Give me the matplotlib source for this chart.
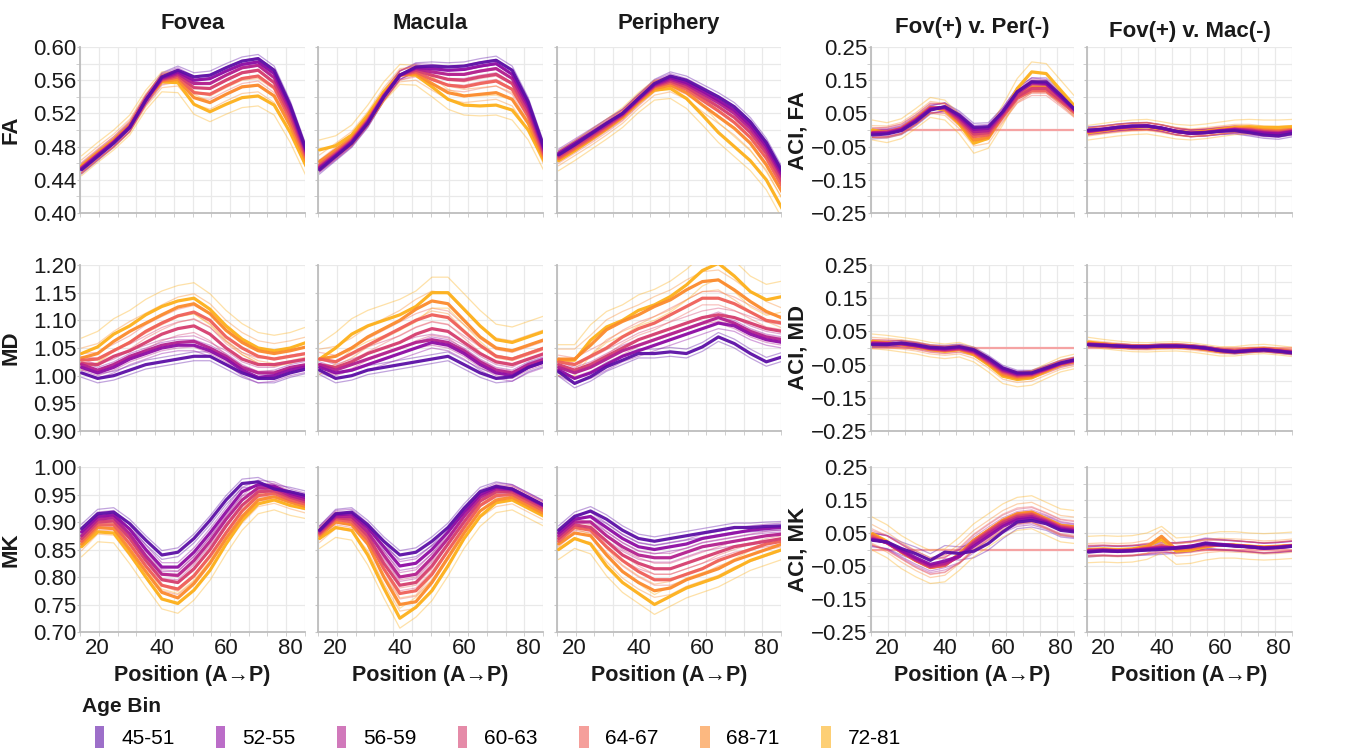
import numpy as np
import matplotlib.pyplot as plt
from matplotlib.patches import Patch
from matplotlib.ticker import FuncFormatter

plt.rcParams['font.family'] = ['Liberation Sans', 'DejaVu Sans']

# positions along the tract (anterior -> posterior)
POSITION = [15, 20, 25, 30, 35, 40, 45, 50, 55, 60, 65, 70, 75, 80, 85]

AGE_BINS = ["45-51", "52-55", "56-59", "60-63", "64-67", "68-71", "72-81"]
BIN_COLORS = ["#5c0fa6", "#8e0ca4", "#b3208f", "#d53e6f", "#ef5f58", "#fb8a2c", "#fdb01a"]

COLUMN_TITLES = ["Fovea", "Macula", "Periphery", "Fov(+) v. Per(-)", "Fov(+) v. Mac(-)"]
ROW_METRICS = ["FA", "MD", "MK"]

# ---- FA ----
FA_FOVEA = [
    [0.452, 0.468, 0.484, 0.503, 0.536, 0.564, 0.572, 0.564, 0.566, 0.575, 0.583, 0.586, 0.572, 0.530, 0.476],
    [0.453, 0.469, 0.485, 0.503, 0.536, 0.563, 0.570, 0.560, 0.562, 0.571, 0.579, 0.582, 0.568, 0.527, 0.474],
    [0.454, 0.470, 0.485, 0.504, 0.536, 0.562, 0.568, 0.556, 0.556, 0.566, 0.575, 0.578, 0.563, 0.523, 0.472],
    [0.454, 0.470, 0.486, 0.504, 0.536, 0.561, 0.566, 0.551, 0.550, 0.560, 0.569, 0.572, 0.557, 0.518, 0.469],
    [0.455, 0.471, 0.486, 0.505, 0.536, 0.560, 0.564, 0.545, 0.543, 0.553, 0.562, 0.565, 0.551, 0.512, 0.466],
    [0.456, 0.472, 0.487, 0.505, 0.536, 0.559, 0.561, 0.539, 0.533, 0.543, 0.552, 0.554, 0.541, 0.505, 0.462],
    [0.457, 0.473, 0.488, 0.506, 0.536, 0.558, 0.557, 0.531, 0.522, 0.531, 0.539, 0.541, 0.530, 0.497, 0.456],
]
FA_MACULA = [
    [0.452, 0.468, 0.484, 0.508, 0.540, 0.566, 0.576, 0.577, 0.576, 0.577, 0.581, 0.584, 0.572, 0.534, 0.478],
    [0.454, 0.469, 0.485, 0.509, 0.540, 0.566, 0.575, 0.574, 0.572, 0.573, 0.577, 0.580, 0.567, 0.530, 0.476],
    [0.455, 0.470, 0.486, 0.510, 0.541, 0.566, 0.574, 0.570, 0.567, 0.567, 0.571, 0.574, 0.562, 0.526, 0.474],
    [0.456, 0.471, 0.487, 0.511, 0.541, 0.566, 0.572, 0.566, 0.561, 0.560, 0.564, 0.567, 0.556, 0.521, 0.471],
    [0.458, 0.473, 0.488, 0.512, 0.542, 0.566, 0.570, 0.561, 0.554, 0.552, 0.556, 0.559, 0.549, 0.516, 0.468],
    [0.462, 0.476, 0.490, 0.514, 0.543, 0.566, 0.568, 0.556, 0.545, 0.541, 0.543, 0.545, 0.537, 0.508, 0.465],
    [0.476, 0.481, 0.494, 0.518, 0.546, 0.567, 0.566, 0.552, 0.537, 0.530, 0.529, 0.530, 0.524, 0.500, 0.462],
]
FA_PERIPHERY = [
    [0.470, 0.482, 0.495, 0.508, 0.520, 0.538, 0.556, 0.565, 0.560, 0.550, 0.540, 0.528, 0.510, 0.485, 0.450],
    [0.472, 0.484, 0.496, 0.508, 0.520, 0.538, 0.555, 0.563, 0.557, 0.547, 0.536, 0.524, 0.506, 0.481, 0.446],
    [0.470, 0.482, 0.494, 0.506, 0.519, 0.537, 0.554, 0.561, 0.555, 0.544, 0.533, 0.520, 0.502, 0.477, 0.443],
    [0.468, 0.480, 0.492, 0.505, 0.518, 0.536, 0.553, 0.559, 0.552, 0.540, 0.528, 0.515, 0.497, 0.472, 0.438],
    [0.466, 0.478, 0.490, 0.503, 0.517, 0.535, 0.552, 0.557, 0.549, 0.536, 0.523, 0.509, 0.491, 0.466, 0.432],
    [0.465, 0.477, 0.489, 0.502, 0.516, 0.534, 0.550, 0.554, 0.545, 0.530, 0.516, 0.502, 0.484, 0.458, 0.425],
    [0.463, 0.475, 0.488, 0.501, 0.515, 0.533, 0.548, 0.550, 0.538, 0.518, 0.497, 0.480, 0.463, 0.440, 0.405],
]
ACI_FA_PER = [
    [-0.015, -0.012, -0.002, 0.025, 0.060, 0.070, 0.045, 0.008, 0.010, 0.055, 0.115, 0.145, 0.145, 0.105, 0.060],
    [-0.010, -0.010, 0.000, 0.028, 0.062, 0.070, 0.040, 0.002, 0.005, 0.055, 0.115, 0.145, 0.140, 0.100, 0.060],
    [-0.010, -0.008, 0.002, 0.030, 0.064, 0.068, 0.036, -0.005, -0.002, 0.050, 0.110, 0.140, 0.138, 0.098, 0.058],
    [-0.008, -0.006, 0.004, 0.032, 0.066, 0.066, 0.030, -0.012, -0.008, 0.045, 0.100, 0.125, 0.125, 0.090, 0.055],
    [-0.008, -0.006, 0.004, 0.032, 0.067, 0.064, 0.026, -0.020, -0.015, 0.040, 0.095, 0.118, 0.118, 0.085, 0.050],
    [-0.005, -0.006, 0.005, 0.034, 0.068, 0.062, 0.022, -0.030, -0.022, 0.040, 0.100, 0.130, 0.130, 0.095, 0.055],
    [0.000, -0.008, 0.004, 0.035, 0.068, 0.060, 0.018, -0.040, -0.025, 0.045, 0.125, 0.175, 0.170, 0.120, 0.070],
]
ACI_FA_MAC = [
    [0.000, 0.002, 0.008, 0.012, 0.012, 0.006, -0.004, -0.010, -0.008, -0.004, -0.002, -0.008, -0.015, -0.018, -0.010],
    [-0.002, 0.003, 0.008, 0.012, 0.013, 0.006, -0.004, -0.010, -0.008, -0.003, 0.000, -0.005, -0.010, -0.012, -0.005],
    [-0.004, 0.002, 0.008, 0.010, 0.012, 0.005, -0.005, -0.010, -0.008, -0.003, 0.002, -0.002, -0.008, -0.010, -0.004],
    [-0.004, 0.001, 0.006, 0.010, 0.012, 0.005, -0.005, -0.010, -0.007, -0.002, 0.002, 0.000, -0.005, -0.008, -0.002],
    [-0.005, 0.000, 0.005, 0.009, 0.011, 0.005, -0.004, -0.009, -0.006, -0.001, 0.003, 0.002, -0.003, -0.005, 0.000],
    [-0.006, 0.000, 0.005, 0.009, 0.011, 0.004, -0.004, -0.009, -0.005, 0.000, 0.005, 0.005, 0.000, -0.002, 0.002],
    [-0.008, -0.002, 0.004, 0.008, 0.010, 0.003, -0.005, -0.008, -0.004, 0.002, 0.008, 0.010, 0.008, 0.008, 0.010],
]

# ---- MD ----
MD_FOVEA = [
    [1.005, 0.995, 1.000, 1.010, 1.020, 1.025, 1.030, 1.035, 1.035, 1.020, 1.005, 0.995, 0.995, 1.005, 1.012],
    [1.015, 1.005, 1.015, 1.030, 1.040, 1.050, 1.055, 1.055, 1.045, 1.030, 1.010, 0.997, 1.000, 1.010, 1.016],
    [1.020, 1.010, 1.020, 1.035, 1.045, 1.055, 1.060, 1.062, 1.050, 1.035, 1.015, 1.005, 1.005, 1.015, 1.020],
    [1.022, 1.020, 1.035, 1.045, 1.060, 1.075, 1.085, 1.090, 1.075, 1.050, 1.030, 1.020, 1.020, 1.025, 1.030],
    [1.028, 1.030, 1.045, 1.060, 1.080, 1.095, 1.108, 1.115, 1.100, 1.070, 1.050, 1.035, 1.030, 1.035, 1.040],
    [1.032, 1.040, 1.062, 1.080, 1.095, 1.110, 1.124, 1.130, 1.112, 1.082, 1.060, 1.045, 1.040, 1.045, 1.052],
    [1.040, 1.052, 1.075, 1.090, 1.110, 1.125, 1.135, 1.140, 1.120, 1.090, 1.066, 1.050, 1.045, 1.050, 1.060],
]
MD_MACULA = [
    [1.010, 0.995, 1.000, 1.010, 1.015, 1.020, 1.025, 1.030, 1.035, 1.020, 1.005, 0.995, 0.998, 1.015, 1.025],
    [1.015, 1.005, 1.010, 1.020, 1.030, 1.040, 1.050, 1.060, 1.055, 1.040, 1.020, 1.005, 1.000, 1.015, 1.025],
    [1.020, 1.010, 1.020, 1.030, 1.040, 1.050, 1.060, 1.065, 1.060, 1.045, 1.025, 1.010, 1.005, 1.020, 1.030],
    [1.020, 1.015, 1.025, 1.040, 1.050, 1.060, 1.075, 1.085, 1.080, 1.060, 1.040, 1.025, 1.020, 1.030, 1.040],
    [1.030, 1.025, 1.040, 1.055, 1.070, 1.085, 1.100, 1.110, 1.105, 1.080, 1.055, 1.035, 1.030, 1.040, 1.050],
    [1.030, 1.035, 1.050, 1.070, 1.085, 1.100, 1.120, 1.135, 1.130, 1.100, 1.070, 1.050, 1.045, 1.055, 1.065],
    [1.030, 1.050, 1.075, 1.090, 1.100, 1.110, 1.125, 1.150, 1.150, 1.120, 1.090, 1.065, 1.060, 1.070, 1.080],
]
MD_PERIPHERY = [
    [1.007, 0.986, 0.998, 1.016, 1.028, 1.040, 1.040, 1.043, 1.040, 1.052, 1.070, 1.058, 1.040, 1.025, 1.034],
    [1.010, 0.995, 1.005, 1.020, 1.035, 1.045, 1.055, 1.065, 1.075, 1.085, 1.095, 1.090, 1.075, 1.065, 1.060],
    [1.015, 1.005, 1.015, 1.030, 1.045, 1.055, 1.065, 1.075, 1.085, 1.095, 1.105, 1.095, 1.080, 1.070, 1.065],
    [1.020, 1.010, 1.020, 1.035, 1.050, 1.065, 1.075, 1.085, 1.095, 1.105, 1.110, 1.105, 1.095, 1.085, 1.080],
    [1.025, 1.020, 1.035, 1.050, 1.070, 1.085, 1.095, 1.110, 1.125, 1.140, 1.140, 1.130, 1.115, 1.100, 1.095],
    [1.030, 1.030, 1.055, 1.083, 1.098, 1.110, 1.125, 1.137, 1.155, 1.170, 1.173, 1.155, 1.134, 1.116, 1.104],
    [1.028, 1.028, 1.064, 1.088, 1.100, 1.118, 1.128, 1.143, 1.164, 1.190, 1.203, 1.180, 1.152, 1.137, 1.143],
]
ACI_MD_PER = [
    [0.010, 0.010, 0.015, 0.010, 0.002, 0.000, 0.004, -0.005, -0.030, -0.060, -0.075, -0.075, -0.060, -0.045, -0.035],
    [0.012, 0.012, 0.014, 0.008, 0.000, -0.002, 0.002, -0.008, -0.034, -0.064, -0.078, -0.076, -0.062, -0.046, -0.036],
    [0.014, 0.013, 0.013, 0.007, -0.001, -0.004, 0.000, -0.010, -0.037, -0.067, -0.080, -0.078, -0.063, -0.047, -0.037],
    [0.015, 0.014, 0.012, 0.006, -0.002, -0.006, -0.002, -0.012, -0.040, -0.070, -0.083, -0.080, -0.065, -0.048, -0.038],
    [0.016, 0.014, 0.011, 0.006, -0.003, -0.007, -0.003, -0.014, -0.043, -0.074, -0.086, -0.082, -0.066, -0.049, -0.039],
    [0.018, 0.015, 0.011, 0.005, -0.004, -0.008, -0.004, -0.017, -0.046, -0.080, -0.090, -0.086, -0.068, -0.050, -0.040],
    [0.020, 0.016, 0.010, 0.004, -0.005, -0.010, -0.005, -0.020, -0.050, -0.085, -0.095, -0.090, -0.070, -0.050, -0.040],
]
ACI_MD_MAC = [
    [0.010, 0.008, 0.006, 0.004, 0.004, 0.006, 0.006, 0.004, 0.000, -0.008, -0.012, -0.008, -0.006, -0.010, -0.015],
    [0.010, 0.008, 0.006, 0.004, 0.004, 0.006, 0.006, 0.004, 0.000, -0.007, -0.011, -0.008, -0.005, -0.009, -0.014],
    [0.011, 0.009, 0.006, 0.004, 0.004, 0.005, 0.006, 0.004, -0.001, -0.007, -0.010, -0.007, -0.005, -0.009, -0.013],
    [0.012, 0.010, 0.006, 0.004, 0.003, 0.005, 0.006, 0.003, -0.002, -0.008, -0.010, -0.006, -0.004, -0.008, -0.012],
    [0.013, 0.010, 0.006, 0.003, 0.003, 0.005, 0.006, 0.003, -0.002, -0.008, -0.010, -0.006, -0.004, -0.008, -0.012],
    [0.015, 0.011, 0.007, 0.003, 0.002, 0.004, 0.006, 0.002, -0.003, -0.009, -0.010, -0.006, -0.004, -0.008, -0.012],
    [0.018, 0.012, 0.007, 0.003, 0.002, 0.004, 0.005, 0.002, -0.004, -0.010, -0.010, -0.005, -0.003, -0.007, -0.012],
]

# ---- MK ----
MK_FOVEA = [
    [0.888, 0.915, 0.918, 0.897, 0.867, 0.840, 0.845, 0.870, 0.903, 0.940, 0.970, 0.973, 0.960, 0.955, 0.948],
    [0.882, 0.910, 0.913, 0.887, 0.850, 0.818, 0.818, 0.845, 0.880, 0.918, 0.955, 0.968, 0.965, 0.952, 0.944],
    [0.875, 0.905, 0.908, 0.878, 0.838, 0.805, 0.803, 0.830, 0.865, 0.905, 0.940, 0.962, 0.962, 0.948, 0.940],
    [0.870, 0.900, 0.902, 0.870, 0.830, 0.795, 0.790, 0.815, 0.850, 0.893, 0.930, 0.955, 0.957, 0.945, 0.936],
    [0.865, 0.895, 0.895, 0.860, 0.820, 0.785, 0.778, 0.802, 0.838, 0.880, 0.920, 0.948, 0.952, 0.940, 0.932],
    [0.860, 0.890, 0.888, 0.850, 0.810, 0.772, 0.762, 0.788, 0.825, 0.870, 0.910, 0.940, 0.946, 0.936, 0.928],
    [0.855, 0.882, 0.880, 0.842, 0.800, 0.760, 0.752, 0.776, 0.812, 0.860, 0.903, 0.933, 0.940, 0.930, 0.924],
]
MK_MACULA = [
    [0.885, 0.915, 0.918, 0.895, 0.865, 0.840, 0.845, 0.865, 0.890, 0.925, 0.955, 0.965, 0.960, 0.945, 0.930],
    [0.885, 0.913, 0.915, 0.890, 0.855, 0.820, 0.825, 0.850, 0.882, 0.918, 0.950, 0.963, 0.960, 0.945, 0.930],
    [0.883, 0.910, 0.910, 0.882, 0.840, 0.800, 0.805, 0.835, 0.870, 0.910, 0.945, 0.960, 0.958, 0.943, 0.928],
    [0.880, 0.908, 0.905, 0.875, 0.825, 0.785, 0.790, 0.820, 0.860, 0.900, 0.938, 0.955, 0.955, 0.940, 0.925],
    [0.878, 0.905, 0.900, 0.868, 0.815, 0.770, 0.775, 0.805, 0.848, 0.890, 0.930, 0.948, 0.950, 0.935, 0.920],
    [0.875, 0.900, 0.895, 0.860, 0.800, 0.750, 0.755, 0.790, 0.835, 0.880, 0.920, 0.940, 0.945, 0.930, 0.915],
    [0.870, 0.890, 0.885, 0.840, 0.780, 0.725, 0.745, 0.775, 0.820, 0.870, 0.910, 0.935, 0.940, 0.925, 0.910],
]
MK_PERIPHERY = [
    [0.885, 0.910, 0.920, 0.905, 0.885, 0.870, 0.865, 0.870, 0.875, 0.880, 0.885, 0.890, 0.890, 0.892, 0.893],
    [0.880, 0.905, 0.910, 0.890, 0.870, 0.855, 0.850, 0.855, 0.860, 0.870, 0.875, 0.880, 0.885, 0.888, 0.890],
    [0.875, 0.900, 0.900, 0.875, 0.855, 0.840, 0.835, 0.835, 0.845, 0.855, 0.860, 0.865, 0.870, 0.875, 0.878],
    [0.870, 0.895, 0.890, 0.865, 0.840, 0.825, 0.815, 0.815, 0.825, 0.835, 0.845, 0.855, 0.860, 0.865, 0.870],
    [0.865, 0.890, 0.885, 0.855, 0.830, 0.810, 0.795, 0.795, 0.805, 0.815, 0.830, 0.840, 0.850, 0.860, 0.865],
    [0.860, 0.880, 0.875, 0.840, 0.810, 0.790, 0.775, 0.780, 0.795, 0.805, 0.815, 0.830, 0.840, 0.850, 0.860],
    [0.850, 0.870, 0.860, 0.820, 0.790, 0.770, 0.750, 0.765, 0.780, 0.790, 0.800, 0.815, 0.830, 0.840, 0.850],
]
ACI_MK_PER = [
    [0.028, 0.023, 0.003, -0.013, -0.033, -0.008, -0.012, -0.005, 0.018, 0.053, 0.083, 0.088, 0.078, 0.058, 0.053],
    [0.030, 0.022, -0.002, -0.025, -0.045, -0.035, -0.020, 0.010, 0.040, 0.070, 0.090, 0.095, 0.082, 0.062, 0.056],
    [0.032, 0.021, -0.005, -0.030, -0.050, -0.042, -0.022, 0.018, 0.048, 0.076, 0.095, 0.100, 0.085, 0.065, 0.058],
    [0.035, 0.020, -0.006, -0.032, -0.052, -0.046, -0.020, 0.022, 0.053, 0.082, 0.100, 0.105, 0.088, 0.068, 0.062],
    [0.040, 0.020, -0.007, -0.033, -0.054, -0.048, -0.016, 0.025, 0.056, 0.085, 0.104, 0.108, 0.090, 0.070, 0.065],
    [0.045, 0.022, -0.008, -0.034, -0.055, -0.048, -0.013, 0.028, 0.058, 0.088, 0.108, 0.113, 0.093, 0.073, 0.068],
    [0.048, 0.025, -0.008, -0.033, -0.053, -0.048, -0.013, 0.028, 0.058, 0.088, 0.108, 0.113, 0.093, 0.073, 0.068],
]
ACI_MK_MAC = [
    [-0.008, -0.004, -0.006, -0.004, -0.002, 0.000, 0.004, 0.008, 0.018, 0.014, 0.010, 0.008, 0.004, 0.006, 0.010],
    [-0.006, -0.004, -0.005, -0.004, 0.000, 0.004, 0.006, 0.010, 0.020, 0.016, 0.012, 0.008, 0.004, 0.006, 0.010],
    [-0.004, -0.002, -0.004, -0.003, 0.002, 0.006, 0.006, 0.010, 0.016, 0.014, 0.012, 0.008, 0.004, 0.007, 0.011],
    [-0.003, -0.002, -0.004, -0.002, 0.002, 0.008, 0.004, 0.008, 0.014, 0.014, 0.012, 0.008, 0.005, 0.008, 0.012],
    [-0.002, -0.002, -0.003, -0.002, 0.004, 0.012, 0.002, 0.006, 0.012, 0.014, 0.012, 0.009, 0.006, 0.008, 0.012],
    [-0.002, 0.000, -0.002, 0.000, 0.008, 0.040, 0.000, 0.002, 0.010, 0.014, 0.012, 0.010, 0.006, 0.008, 0.012],
    [0.000, 0.002, 0.000, 0.002, 0.010, 0.030, -0.005, -0.002, 0.008, 0.014, 0.014, 0.010, 0.008, 0.010, 0.013],
]

# half-width of the thin (interval) lines around each bin's mean, per bin
HW_FA = [0.005, 0.005, 0.005, 0.006, 0.006, 0.008, 0.012]
HW_MD = [0.008, 0.010, 0.010, 0.012, 0.012, 0.018, 0.028]
HW_MK = [0.008, 0.008, 0.008, 0.010, 0.010, 0.012, 0.018]
HW_ACI_FA_PER = [0.012, 0.012, 0.012, 0.014, 0.014, 0.018, 0.030]
HW_ACI_FA_MAC = [0.010, 0.010, 0.010, 0.010, 0.010, 0.012, 0.022]
HW_ACI_MD_PER = [0.008, 0.008, 0.008, 0.010, 0.010, 0.014, 0.022]
HW_ACI_MD_MAC = [0.006, 0.006, 0.006, 0.006, 0.006, 0.008, 0.014]
HW_ACI_MK_PER = [0.020, 0.020, 0.020, 0.022, 0.022, 0.030, 0.050]
HW_ACI_MK_MAC = [0.015, 0.015, 0.015, 0.015, 0.015, 0.020, 0.040]

PANELS = [
    [(FA_FOVEA, HW_FA), (FA_MACULA, HW_FA), (FA_PERIPHERY, HW_FA),
     (ACI_FA_PER, HW_ACI_FA_PER), (ACI_FA_MAC, HW_ACI_FA_MAC)],
    [(MD_FOVEA, HW_MD), (MD_MACULA, HW_MD), (MD_PERIPHERY, HW_MD),
     (ACI_MD_PER, HW_ACI_MD_PER), (ACI_MD_MAC, HW_ACI_MD_MAC)],
    [(MK_FOVEA, HW_MK), (MK_MACULA, HW_MK), (MK_PERIPHERY, HW_MK),
     (ACI_MK_PER, HW_ACI_MK_PER), (ACI_MK_MAC, HW_ACI_MK_MAC)],
]

Y_LIMITS = [(0.40, 0.60), (0.90, 1.20), (0.70, 1.00)]
Y_LABEL_TICKS = [np.arange(0.40, 0.601, 0.04), np.arange(0.90, 1.201, 0.05), np.arange(0.70, 1.001, 0.05)]
Y_GRID_TICKS = [np.arange(0.40, 0.601, 0.02), np.arange(0.90, 1.201, 0.05), np.arange(0.70, 1.001, 0.05)]
ACI_LIMITS = (-0.25, 0.25)
ACI_LABEL_TICKS = np.arange(-0.25, 0.251, 0.10)
ACI_GRID_TICKS = np.arange(-0.25, 0.251, 0.05)

X_LO, X_HI = 14.5, 84.6

# ---- layout (pixels) ----
W, H = 1351, 752
COL_LEFT = [80, 318, 557, 871, 1087]
COL_WIDTH = [225, 225, 224, 203, 205]
ROW_TOP = [47, 265, 467]
ROW_HEIGHT = [166, 166, 165]

GRID_COLOR = "#e9e9e9"
SPINE_COLOR = "#bdbdbd"
TEXT_COLOR = "#1a1a1a"

fig = plt.figure(figsize=(W / 100, H / 100), dpi=100)
fmt = FuncFormatter(lambda v, p: f"{v:.2f}".replace("-", "\u2212"))

for r in range(3):
    for c in range(5):
        rect = [COL_LEFT[c] / W, 1 - (ROW_TOP[r] + ROW_HEIGHT[r]) / H,
                COL_WIDTH[c] / W, ROW_HEIGHT[r] / H]
        ax = fig.add_axes(rect)
        means, hw = PANELS[r][c]
        is_aci = c >= 3

        if is_aci:
            ax.axhline(0, color="#f5a3a3", lw=1.6, zorder=1)

        # thin interval lines
        for b in range(len(AGE_BINS)):
            m = np.array(means[b])
            for sgn in (-1, 1):
                ax.plot(POSITION, m + sgn * hw[b], color=BIN_COLORS[b], lw=0.9, alpha=0.38, zorder=2)
        # thick mean lines (oldest first so youngest sits on top)
        for b in reversed(range(len(AGE_BINS))):
            ax.plot(POSITION, means[b], color=BIN_COLORS[b], lw=2.3, alpha=0.95, zorder=3,
                    solid_joinstyle="round", solid_capstyle="round")

        ax.set_xlim(X_LO, X_HI)
        ax.set_xticks([20, 40, 60, 80])
        ax.set_xticks(np.linspace(X_LO, X_HI, 13), minor=True)
        if is_aci:
            ax.set_ylim(*ACI_LIMITS)
            ax.set_yticks(ACI_LABEL_TICKS)
            ax.set_yticks(ACI_GRID_TICKS, minor=True)
        else:
            ax.set_ylim(*Y_LIMITS[r])
            ax.set_yticks(Y_LABEL_TICKS[r])
            ax.set_yticks(Y_GRID_TICKS[r], minor=True)
        ax.yaxis.set_major_formatter(fmt)

        ax.xaxis.grid(True, which="minor", color=GRID_COLOR, lw=0.9)
        ax.yaxis.grid(True, which="both", color=GRID_COLOR, lw=0.9)
        ax.set_axisbelow(True)
        for side in ("top", "right"):
            ax.spines[side].set_visible(False)
        for side in ("left", "bottom"):
            ax.spines[side].set_color(SPINE_COLOR)
            ax.spines[side].set_linewidth(1.3)
        ax.tick_params(axis="x", which="major", length=0, labelsize=16, colors=TEXT_COLOR, pad=4)
        ax.tick_params(axis="y", which="major", length=2, labelsize=16, colors=TEXT_COLOR, pad=0.5)
        ax.tick_params(which="both", color="#c8c8c8")
        ax.tick_params(which="minor", length=3)

        if r < 2:
            ax.tick_params(axis="x", labelbottom=False)
        else:
            ax.set_xlabel("Position (A\u2192P)", fontsize=15.5, fontweight="bold", color=TEXT_COLOR, labelpad=5)

        if c in (0, 3):
            label = ROW_METRICS[r] if c == 0 else f"ACI, {ROW_METRICS[r]}"
            ax.set_ylabel(label, fontsize=16, fontweight="bold", color=TEXT_COLOR)
            ax.yaxis.set_label_coords(-0.26 if c == 0 else -0.31, 0.5)
        else:
            ax.tick_params(axis="y", labelleft=False)

        if r == 0:
            ax.set_title(COLUMN_TITLES[c], fontsize=16, fontweight="bold", color=TEXT_COLOR,
                         pad=13 if c < 3 else (10 if c == 3 else 7))

# legend: title on its own line, colour swatches indented beneath it
fig.text(82 / W, 1 - 707 / H, "Age Bin", fontsize=15, fontweight="bold", color=TEXT_COLOR,
         ha="left", va="center")
handles = [Patch(facecolor=col, edgecolor="none", alpha=0.6) for col in BIN_COLORS]
fig.legend(handles, AGE_BINS, ncol=7, loc="center left",
           bbox_to_anchor=(95 / W, 1 - 737 / H), frameon=False, fontsize=15,
           handlelength=0.45, handleheight=1.2, handletextpad=0.8,
           columnspacing=2.0, borderpad=0, borderaxespad=0)

fig.savefig("out.png", dpi=100)
